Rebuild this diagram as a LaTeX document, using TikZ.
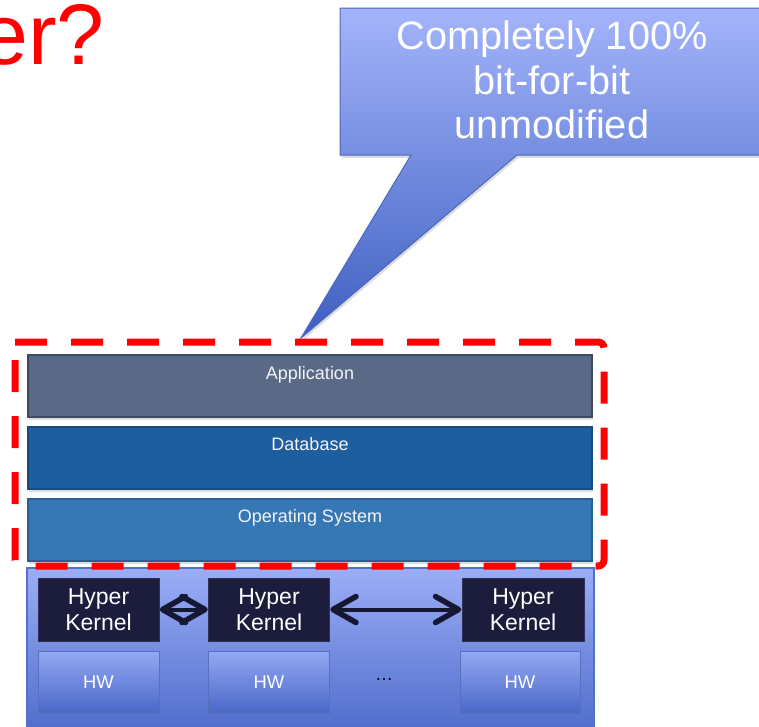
\documentclass[tikz,border=0pt]{standalone}
\usepackage{fontspec}
\setmainfont{Liberation Sans}
\usetikzlibrary{shadows}

\definecolor{appfill}{HTML}{5A6A86}
\definecolor{appline}{HTML}{3E4B62}
\definecolor{dbfill}{HTML}{1F5E9E}
\definecolor{dbline}{HTML}{194B80}
\definecolor{osfill}{HTML}{3678B4}
\definecolor{osline}{HTML}{2A5F92}
\definecolor{layertext}{HTML}{F2F4F8}
\definecolor{basetop}{HTML}{9BADF6}
\definecolor{basebot}{HTML}{4A68C8}
\definecolor{baseline}{HTML}{5270C8}
\definecolor{hkfill}{HTML}{1C1D3D}
\definecolor{hkline}{HTML}{2E3158}
\definecolor{hwtop}{HTML}{94A8F3}
\definecolor{hwbot}{HTML}{4A68C8}
\definecolor{hwline}{HTML}{5871BE}
\definecolor{calltop}{HTML}{A4B4FB}
\definecolor{callbot}{HTML}{3E5FC0}
\definecolor{callline}{HTML}{4A67BE}
\definecolor{linkcol}{HTML}{161833}
\definecolor{alertred}{HTML}{FF0000}

\tikzset{
  softshadow/.style={drop shadow={shadow xshift=1pt, shadow yshift=-3pt, opacity=0.22, fill=black!60}},
  layer/.style={draw=#1, line width=1.2pt, inner sep=0pt, minimum width=564pt,
    font=\fontsize{18pt}{20pt}\selectfont, text=layertext, softshadow},
  hkbox/.style={fill=hkfill, draw=hkline, line width=1pt, inner sep=0pt,
    minimum width=121pt, minimum height=63pt, align=center, text=white,
    font=\fontsize{23pt}{26pt}\selectfont},
  hwbox/.style={top color=hwtop, bottom color=hwbot, draw=hwline, line width=1pt,
    inner sep=0pt, minimum width=121pt, minimum height=62pt, text=white,
    font=\fontsize{18.4pt}{20pt}\selectfont,
    drop shadow={shadow xshift=0.5pt, shadow yshift=-1.5pt, opacity=0.15, fill=black!60}},
  shaft/.style={draw=linkcol, line width=4pt},
  chevron/.style={draw=linkcol, line width=5.5pt, line cap=round, line join=round},
  redframe/.style={draw=alertred, line width=7pt, dash pattern=on 32pt off 24pt,
    rounded corners=6pt},
}

\begin{document}
\begin{tikzpicture}[x=1pt, y=-1pt]
\useasboundingbox (0,0) rectangle (759,726);
\clip (0,0) rectangle (759,726);

% title fragment
\node[font=\fontsize{86pt}{86pt}\selectfont, text=alertred, anchor=base east,
      inner sep=0pt] (title) at (105,64) {er?};

% speech callout
\path[top color=calltop, bottom color=callbot, draw=callline, line width=1pt, softshadow]
  (340,8) -- (790,8) -- (790,155) -- (517,155) -- (301,338) -- (411,155)
  -- (340,155) -- cycle;
\node[font=\fontsize{39.7pt}{44.5pt}\selectfont, text=white, align=center,
      inner sep=0pt] (claim) at (552,80)
  {Completely 100\%\\bit-for-bit\\unmodified};

% software stack
\node[layer=appline, fill=appfill, text height=24pt, text depth=38pt] (app) at (310,386) {Application};
\node[layer=dbline, fill=dbfill, text height=23pt, text depth=39pt] (db) at (310,458) {Database};
\node[layer=osline, fill=osfill, text height=23pt, text depth=39pt] (os) at (310,530) {Operating System};

% hardware base
\path[top color=basetop, bottom color=basebot, draw=baseline, line width=1.2pt, softshadow]
  (27,568) rectangle (594,745);

\node[hkbox] (hk1) at (98.5,609.5) {Hyper\\Kernel};
\node[hkbox] (hk2) at (269,609.5) {Hyper\\Kernel};
\node[hkbox, minimum width=122pt] (hk3) at (523,609.5) {Hyper\\Kernel};

\node[hwbox] (hw1) at (98.5,682) {HW};
\node[hwbox] (hw2) at (269,682) {HW};
\node[hwbox, minimum width=120pt] (hw3) at (520,682) {HW};
\node[font=\fontsize{18pt}{20pt}\selectfont, text=black, inner sep=0pt] (more) at (384,680) {…};

% two-way links between the hyper-kernels, with open chevron heads
\draw[shaft] ([xshift=4pt]hk1.east) -- ([xshift=-4pt]hk2.west);
\draw[chevron] ([xshift=26pt,yshift=13pt]hk1.east) -- ([xshift=3pt]hk1.east)
  -- ([xshift=26pt,yshift=-13pt]hk1.east);
\draw[chevron] ([xshift=-26pt,yshift=13pt]hk2.west) -- ([xshift=-3pt]hk2.west)
  -- ([xshift=-26pt,yshift=-13pt]hk2.west);

\draw[shaft] ([xshift=4pt]hk2.east) -- ([xshift=-4pt]hk3.west);
\draw[chevron] ([xshift=26pt,yshift=13pt]hk2.east) -- ([xshift=3pt]hk2.east)
  -- ([xshift=26pt,yshift=-13pt]hk2.east);
\draw[chevron] ([xshift=-26pt,yshift=13pt]hk3.west) -- ([xshift=-3pt]hk3.west)
  -- ([xshift=-26pt,yshift=-13pt]hk3.west);

% unmodified region outline
\path[redframe] (15,342) -- (604,342) -- (604,566) -- (15,566) -- (15,342);
\end{tikzpicture}
\end{document}
